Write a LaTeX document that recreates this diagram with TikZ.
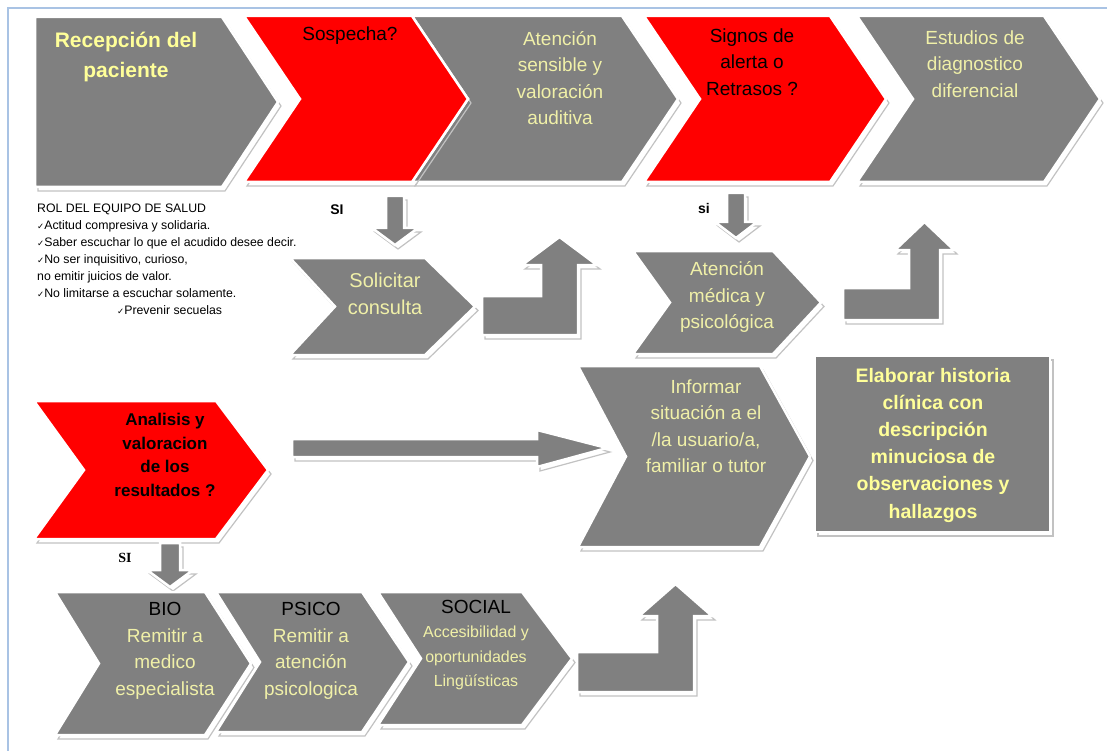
\documentclass[tikz,border=0pt]{standalone}
\usepackage{fontspec}
\setmainfont{Liberation Sans}
\newfontfamily\symfont{DejaVu Sans}
\newfontfamily\seriffont{Liberation Serif}

\definecolor{boxgray}{HTML}{808080}
\definecolor{alertred}{HTML}{FF0000}
\definecolor{paleyellow}{HTML}{F0F0A8}
\definecolor{brightyellow}{HTML}{FFFF99}
\definecolor{frameblue}{HTML}{A9C3E4}
\definecolor{shadowgray}{HTML}{C2C2C2}

% chevron: style, left x, body right x, top y, bottom y, tip depth, notch depth
\newcommand\chevron[7]{%
  \draw[#1] (#2,#4) -- (#3,#4) -- ({#3+#6},{(#4+#5)/2}) -- (#3,#5) -- (#2,#5)
    -- ({#2+#7},{(#4+#5)/2}) -- cycle;}
% block arrow pointing down: centre x, top y, shaft half width, head half width, head base y, tip y
\newcommand\downblock[6]{%
  \draw[grayshape] ({#1-#3},#2) -- ({#1+#3},#2) -- ({#1+#3},#5) -- ({#1+#4},#5)
    -- (#1,#6) -- ({#1-#4},#5) -- ({#1-#3},#5) -- cycle;}
% bent block arrow turning up: bar left x, bar top y, bar bottom y, shaft left x,
% shaft right x, head overhang, head base y, tip y
\newcommand\bentblock[8]{%
  \draw[grayshape] (#1,#3) -- (#1,#2) -- (#4,#2) -- (#4,#7) -- ({#4-#6},#7)
    -- ({(#4+#5)/2},#8) -- ({#5+#6},#7) -- (#5,#7) -- (#5,#3) -- cycle;}

\tikzset{
  shapebase/.style={preaction={draw=shadowgray, line width=1.2pt,
      transform canvas={shift={(3pt,-4pt)}}},
    draw=white, line width=2.5pt, line join=miter},
  grayshape/.style={shapebase, fill=boxgray},
  redshape/.style={shapebase, fill=alertred},
  lbl/.style={inner sep=0pt, align=center, text=paleyellow,
    font=\fontsize{19}{26.5}\selectfont},
  boldlbl/.style={inner sep=0pt, align=center, text=brightyellow,
    font=\bfseries\fontsize{19.5}{27.2}\selectfont},
  darklbl/.style={inner sep=0pt, align=center, text=black,
    font=\fontsize{19}{26.5}\selectfont},
  silbl/.style={inner sep=0pt, text=black, font=\bfseries\fontsize{14}{14}\selectfont},
}
\newcommand\tick{{\symfont\fontsize{8.5}{8.5}\selectfont ✓}}

\begin{document}
\begin{tikzpicture}[x=1pt, y=-1pt]
\useasboundingbox (0,0) rectangle (1107,751);
\fill[white] (0,0) rectangle (1107,751);
\draw[frameblue, line width=2pt] (8,751) -- (8,8) -- (1107,8);

% ---- top row ----
\chevron{grayshape}{35}{222}{17}{187}{56}{0}
\chevron{grayshape}{412}{622}{16}{182}{56}{56}
\chevron{redshape}{244}{412}{16}{182}{56}{56}
\chevron{redshape}{644}{830}{16}{182}{56}{56}
\chevron{grayshape}{857}{1044}{16}{182}{56}{56}

\node[boldlbl, font=\bfseries\fontsize{21}{30}\selectfont] (recepcion) at (126,57) {Recepción del\\paciente};
\node[darklbl] (sospecha) at (350,36) {Sospecha?};
\node[lbl] (atencion) at (560,78) {Atención\\sensible y\\valoración\\auditiva};
\node[darklbl] (signos) at (752,62) {Signos de\\alerta o\\Retrasos ?};
\node[lbl] (estudios) at (975,64) {Estudios de\\diagnostico\\diferencial};

% ---- middle row ----
\node[inner sep=0pt, anchor=north west, align=left, font=\fontsize{12.3}{17}\selectfont]
  (rol) at (37,204) {ROL DEL EQUIPO DE SALUD\\
  \tick Actitud compresiva y solidaria.\\
  \tick Saber escuchar lo que el acudido desee decir.\\
  \tick No ser inquisitivo, curioso,\\
  no emitir juicios de valor.\\
  \tick No limitarse a escuchar solamente.\\
  \hspace*{80pt}\tick Prevenir secuelas};

\node[silbl] (si1) at (337,210) {SI};
\downblock{395}{196}{9}{23}{228}{245}
\chevron{grayshape}{290}{425}{258}{355}{50}{45}
\node[lbl, font=\fontsize{20}{27}\selectfont] (solicitar) at (385,294) {Solicitar\\consulta};
\bentblock{482}{296}{335}{541}{578}{19}{265}{237}

\node[silbl] (si2) at (704,208) {si};
\downblock{736}{193}{9}{21}{222}{238}
\chevron{grayshape}{633}{773}{251}{354}{48}{37}
\node[lbl] (medica) at (727,297) {Atención\\médica y\\psicológica};
\bentblock{843}{288}{320}{909}{940}{14}{250}{222}

% ---- lower row ----
\chevron{redshape}{34}{216}{401}{539}{52}{50}
\node[darklbl, font=\bfseries\fontsize{17}{23.7}\selectfont] (analisis) at (165,455)
  {Analisis y\\valoracion\\de los\\resultados ?};
\draw[grayshape] (292,439) -- (537,439) -- (537,430) -- (607,448) -- (537,467)
  -- (537,457) -- (292,457) -- cycle;
\chevron{grayshape}{578}{760}{366}{547}{50}{48}
\node[lbl] (informar) at (706,426) {Informar\\situación a el\\/la usuario/a,\\familiar o tutor};
\draw[grayshape] (815,356) rectangle (1050,532);
\node[boldlbl] (elaborar) at (933,445)
  {Elaborar historia\\clínica con\\descripción\\minuciosa de\\observaciones y\\hallazgos};

% ---- bottom row ----
\node[silbl, font=\seriffont\bfseries\fontsize{14}{14}\selectfont] (si3) at (125,558) {SI};
\downblock{170}{543}{10}{23}{570}{587}
\chevron{grayshape}{55}{205}{592}{735}{46}{44}
\chevron{grayshape}{216}{362}{592}{732}{47}{44}
\chevron{grayshape}{378}{522}{592}{725}{50}{43}
\node[lbl] (bio) at (165,651) {\textcolor{black}{BIO}\\Remitir a\\medico\\especialista};
\node[lbl] (psico) at (311,651) {\textcolor{black}{PSICO}\\Remitir a\\atención\\psicologica};
\node[lbl, font=\fontsize{16}{24.5}\selectfont] (social) at (476,645)
  {\textcolor{black}{\fontsize{19}{19}\selectfont SOCIAL}\\Accesibilidad y\\oportunidades\\Lingüísticas};
\bentblock{577}{652}{692}{657}{694}{18}{616}{584}
\end{tikzpicture}
\end{document}
